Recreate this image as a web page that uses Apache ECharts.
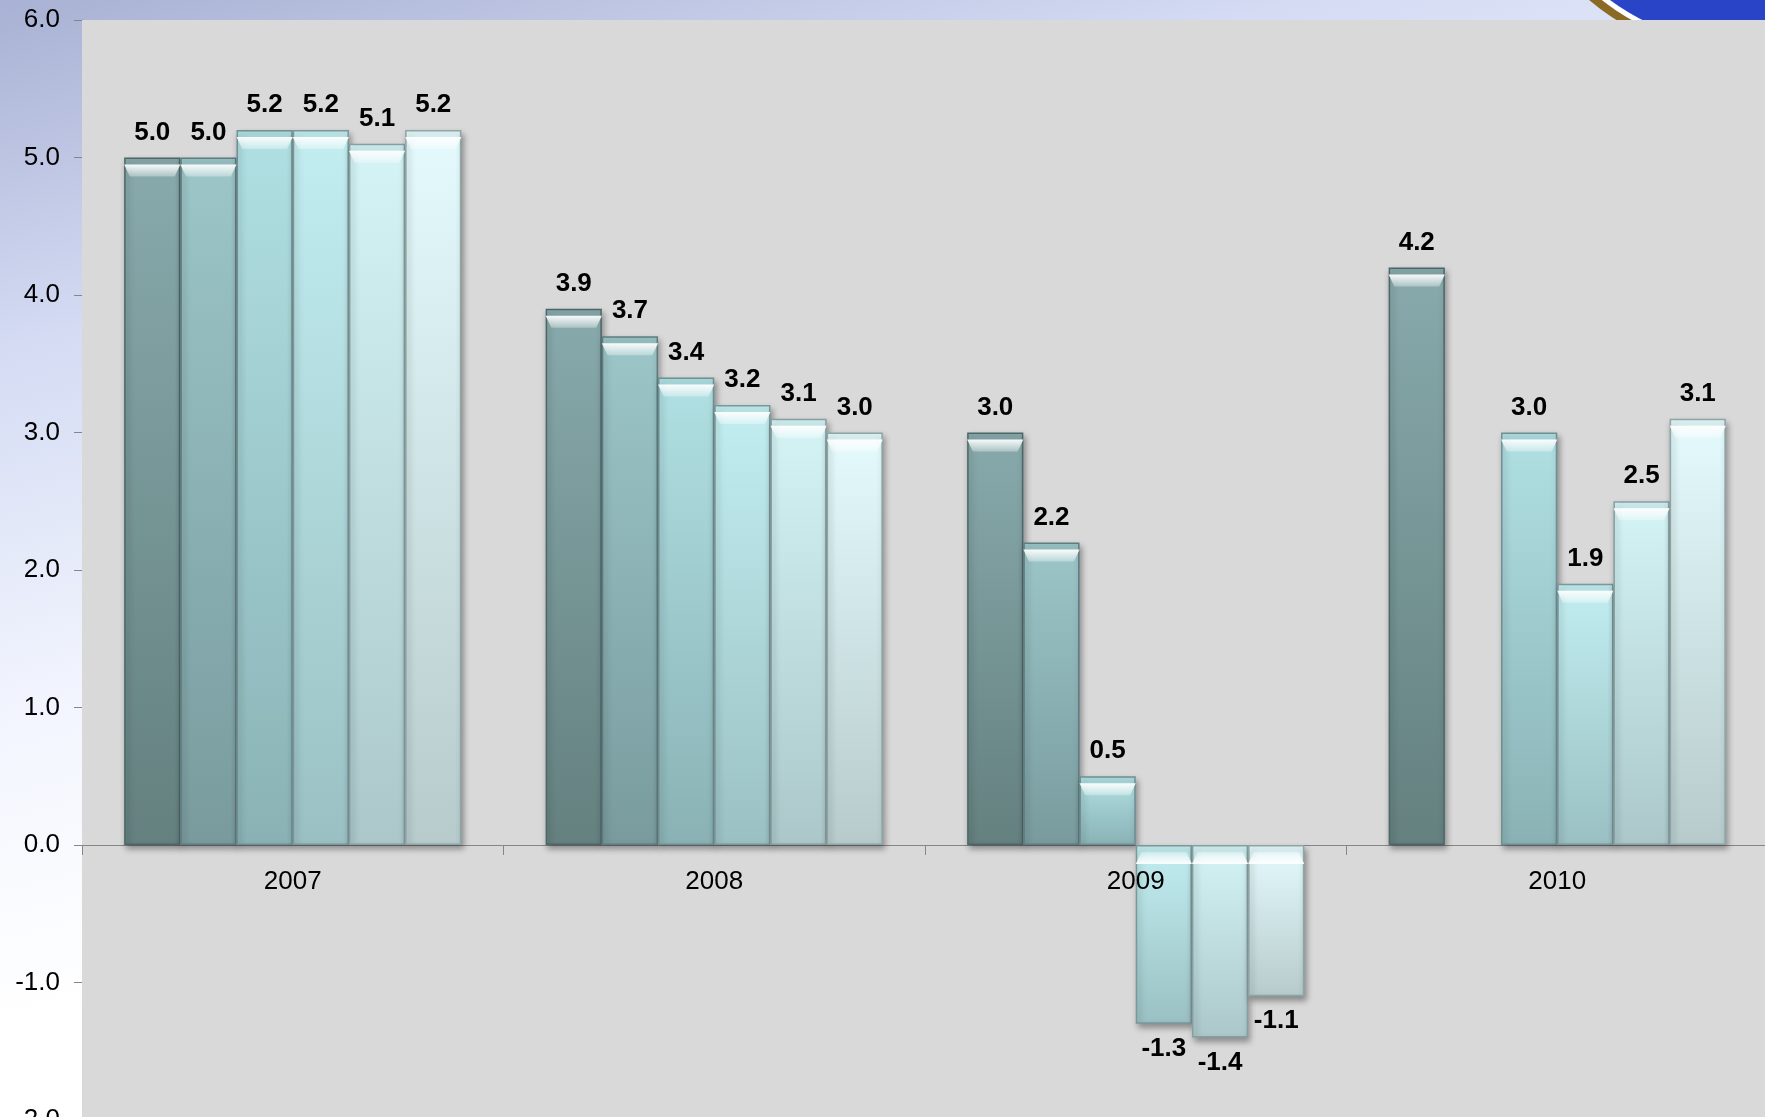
<!DOCTYPE html>
<html>
<head>
<meta charset="utf-8">
<script src="https://cdn.jsdelivr.net/npm/echarts@6/dist/echarts.min.js"></script>
<style>
html,body{margin:0;padding:0;}
#wrap{width:1765px;height:1117px;position:relative;overflow:hidden;
background:linear-gradient(165deg,#a9b1d4 0%,#d4dbf3 22%,#f2f5fe 45%,#ffffff 65%);}
#chart{width:1765px;height:1117px;}
</style>
</head>
<body>
<div id="wrap"><div id="chart"></div></div>
<script>
const years = ['2007', '2008', '2009', '2010'];
const s1 = [5.0, 3.9, 3.0, 4.2];
const s2 = [5.0, 3.7, 2.2, null];
const s3 = [5.2, 3.4, 0.5, 3.0];
const s4 = [5.2, 3.2, -1.3, 1.9];
const s5 = [5.1, 3.1, -1.4, 2.5];
const s6 = [5.2, 3.0, -1.1, 3.1];
const yMin = -2, yMax = 6, yStep = 1;

const seriesValues = [s1, s2, s3, s4, s5, s6];
const topColors = ['#88aaac', '#9cc6c8', '#b0e0e3', '#c2eef1', '#d4f4f6', '#e4fafc'];
const botColors = ['#64807f', '#799b9e', '#8ab2b5', '#9ac0c3', '#abc7c9', '#b7cbcc'];
const borderColors = ['#4d6768', '#5f7d80', '#6f8f92', '#7a9799', '#86a0a2', '#8ea5a6'];

const gridTop = 20, gridHeight = 1100;
const zeroOffset = gridHeight * (0 - yMin) / (yMax - yMin);

const font = '"Liberation Sans", Arial, sans-serif';
const series = [];
seriesValues.forEach((vals, i) => {
  series.push({
    type: 'bar',
    name: 'S' + (i + 1),
    xAxisIndex: 0,
    barGap: '0%',
    barCategoryGap: '20%',
    z: 2,
    itemStyle: {
      color: new echarts.graphic.LinearGradient(0, 0, 0, 1, [
        {offset: 0, color: topColors[i]},
        {offset: 1, color: botColors[i]}
      ]),
      borderColor: borderColors[i],
      borderWidth: 1.5,
      shadowColor: 'rgba(0,0,0,0.35)',
      shadowBlur: 6,
      shadowOffsetX: 2,
      shadowOffsetY: 4
    },
    label: {
      show: true,
      position: 'top',
      distance: 12,
      fontFamily: font,
      fontWeight: 'bold',
      fontSize: 26,
      color: '#000',
      formatter: p => p.value == null ? '' : Number(p.value).toFixed(1)
    },
    data: vals.map(v => v == null ? '-' : (v < 0 ? {value: v, label: {position: 'bottom'}} : v))
  });
});
seriesValues.forEach((vals, i) => {
  series.push({
    type: 'pictorialBar',
    name: 'H' + (i + 1),
    xAxisIndex: 0,
    barGap: '0%',
    barCategoryGap: '20%',
    z: 3,
    silent: true,
    symbol: 'path://M0,0 L100,0 L90,10 L10,10 Z',
    symbolSize: ['100%', 12],
    symbolRepeat: false,
    itemStyle: {
      color: new echarts.graphic.LinearGradient(0, 0, 0, 1, [
        {offset: 0, color: 'rgba(255,255,255,0.95)'},
        {offset: 1, color: 'rgba(255,255,255,0.3)'}
      ])
    },
    label: {show: false},
    data: vals.map(v => v == null ? '-' : {
      value: v,
      symbolPosition: v < 0 ? 'start' : 'end',
      symbolOffset: [0, 7]
    })
  });
});

const chart = echarts.init(document.getElementById('chart'), null, {renderer: 'canvas'});
chart.setOption({
  backgroundColor: 'transparent',
  animation: false,
  graphic: [
    {type: 'circle', z: -10, shape: {cx: 1750, cy: -190, r: 249}, style: {fill: '#8a6a24'}},
    {type: 'circle', z: -10, shape: {cx: 1750, cy: -190, r: 241}, style: {fill: '#ffffff'}},
    {type: 'circle', z: -10, shape: {cx: 1750, cy: -190, r: 236}, style: {fill: '#2a44c8'}}
  ],
  grid: {
    left: 82, top: gridTop, width: 1686, height: gridHeight,
    containLabel: false, outerBoundsMode: 'none',
    show: true, backgroundColor: '#d9d9d9', borderWidth: 0, z: 1
  },
  xAxis: [{
    type: 'category',
    data: years,
    axisLine: {show: true, onZero: true, lineStyle: {color: '#868686', width: 1}},
    axisTick: {show: true, length: 10, lineStyle: {color: '#868686'}},
    axisLabel: {show: false},
    z: 1
  }, {
    type: 'category',
    data: years,
    position: 'bottom',
    offset: -zeroOffset,
    axisLine: {show: false, onZero: false},
    axisTick: {show: false},
    splitLine: {show: false},
    axisLabel: {show: true, fontFamily: font, fontSize: 26, color: '#000', margin: 24},
    z: 20
  }],
  yAxis: {
    type: 'value',
    min: yMin, max: yMax, interval: yStep,
    axisLine: {show: true, lineStyle: {color: '#868686', width: 1}},
    axisTick: {show: true, length: 8, lineStyle: {color: '#868686'}},
    axisLabel: {fontFamily: font, fontSize: 26, color: '#000', margin: 22,
      formatter: v => v.toFixed(1)},
    splitLine: {show: true, lineStyle: {color: '#868686', width: 1}}
  },
  series: series
});
</script>
</body>
</html>
